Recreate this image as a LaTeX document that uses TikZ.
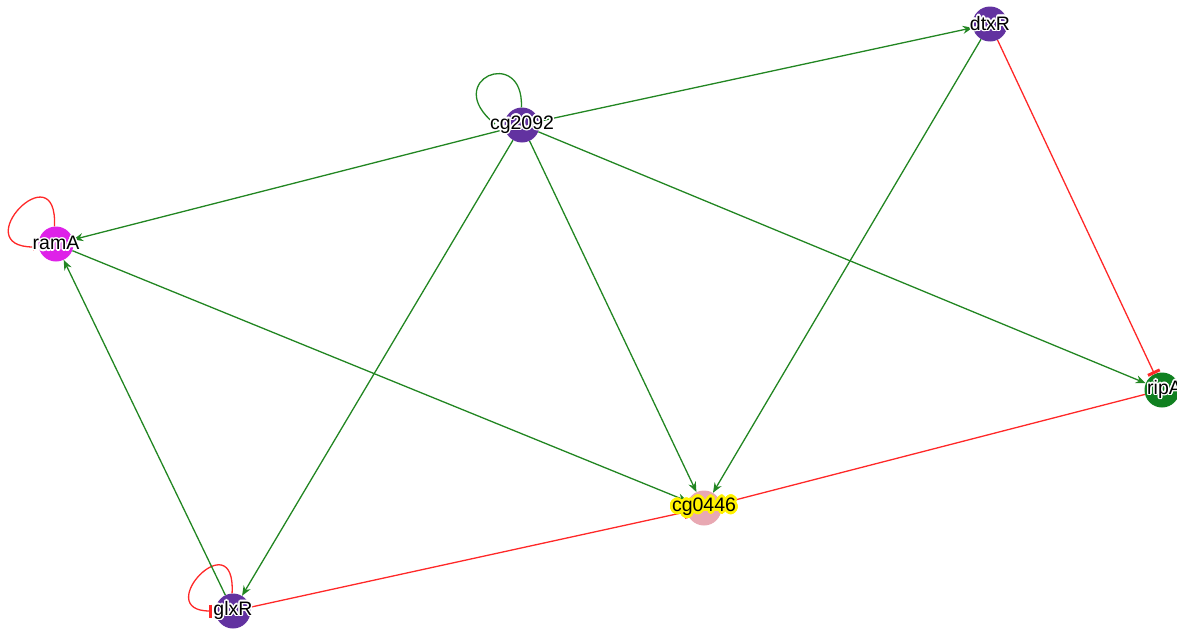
\documentclass[tikz,border=0pt]{standalone}
\usepackage{fontspec}
\setmainfont{Liberation Sans}
\usepackage{contour}
\usetikzlibrary{arrows.meta}
\definecolor{actgreen}{RGB}{34,134,34}
\definecolor{inhred}{RGB}{255,40,40}
\definecolor{tfpurple}{RGB}{98,50,160}
\definecolor{rampink}{RGB}{222,34,232}
\definecolor{tgtpink}{RGB}{232,168,178}
\definecolor{ripgreen}{RGB}{16,128,32}
\newcommand\genelabel[1]{\contourlength{1.4pt}\contour{white}{#1}}
\newcommand\hilabel[1]{\contourlength{2.6pt}\contour[32]{yellow}{#1}}
\begin{document}
\begin{tikzpicture}[x=1pt,y=-1pt,
  gene/.style={circle,minimum size=35pt,inner sep=0pt,draw=none},
  actedge/.style={draw=actgreen,line width=1.3pt,-{Stealth[length=10pt,width=8pt]}},
  inhedge/.style={draw=inhred,line width=1.3pt,-{Bar[width=13pt,line width=3pt]}},
  loopedge/.style={draw=#1,line width=1.3pt},
  lbl/.style={font=\fontsize{19.5}{22}\selectfont,inner sep=0pt,text=black}]
\useasboundingbox (0,0) rectangle (1177,629);

% genes
\node[gene,fill=tfpurple] (cg2092) at (522,125) {};
\node[gene,fill=rampink]  (ramA)   at (56,244)  {};
\node[gene,fill=tgtpink]  (cg0446) at (704,508) {};
\node[gene,fill=tfpurple] (glxR)   at (233,611) {};
\node[gene,fill=ripgreen] (ripA)   at (1162,390) {};
\node[gene,fill=tfpurple] (dtxR)   at (990,24)  {};

% self regulation
\draw[loopedge=actgreen] (cg2092.92) .. controls (524,45) and (440,80) .. (495,124);
\draw[inhedge,-{Bar[width=8pt,line width=2pt]}] (ramA.95) .. controls (58,150) and (-35,247) .. (35,247);
\draw[inhedge,-{Bar[width=13pt,line width=3pt]}] (glxR.93) .. controls (236,520) and (150,611) .. (212,611);

% activation
\draw[actedge] (cg2092) -- (dtxR);
\draw[actedge] (cg2092) -- (ramA);
\draw[actedge] (cg2092) -- (glxR);
\draw[actedge] (cg2092) -- (cg0446);
\draw[actedge] (cg2092) -- (ripA);
\draw[actedge] (dtxR) -- (cg0446);
\draw[actedge] (ramA) -- (cg0446);
\draw[actedge] (glxR) -- (ramA);

% repression
\draw[inhedge] (dtxR) -- (ripA);
\draw[inhedge] (ripA) -- (cg0446);
\draw[inhedge] (glxR) -- (cg0446);

% names
\node[lbl] (cg2092-name) at (cg2092) {\genelabel{cg2092}};
\node[lbl] (ramA-name)   at (ramA)   {\genelabel{ramA}};
\node[lbl] (cg0446-name) at (cg0446) {\hilabel{cg0446}};
\node[lbl] (glxR-name)   at (glxR)   {\genelabel{glxR}};
\node[lbl,anchor=west] (ripA-name) at (1147,390) {\genelabel{ripA}};
\node[lbl] (dtxR-name)   at (dtxR)   {\genelabel{dtxR}};
\end{tikzpicture}
\end{document}
